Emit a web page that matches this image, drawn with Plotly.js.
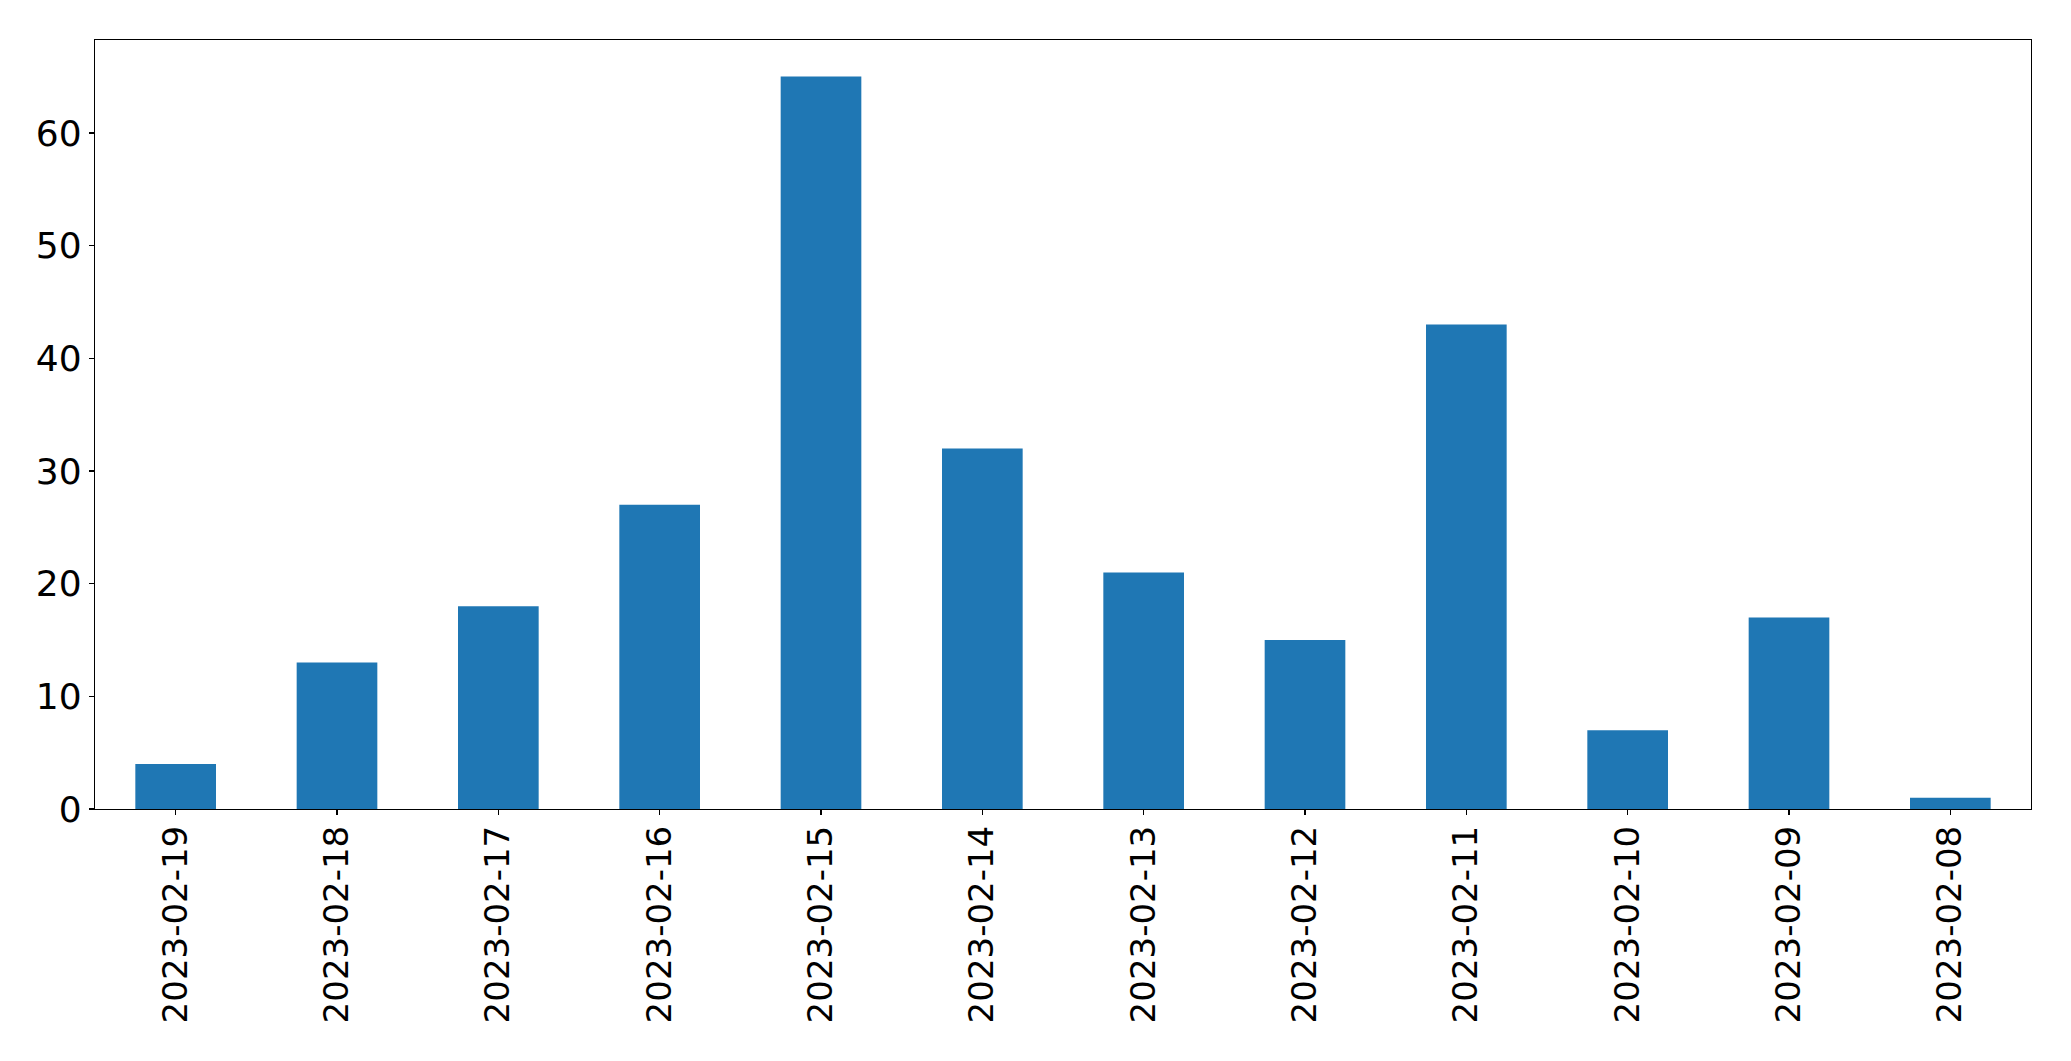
<!DOCTYPE html>
<html><head><meta charset="utf-8">
<script src="https://cdn.plot.ly/plotly-3.0.1.min.js"></script>
<style>html,body{margin:0;padding:0;background:#fff}#chart{width:2071px;height:1061px}</style>
</head><body><div id="chart"></div>
<script>
const dates = ["2023-02-19","2023-02-18","2023-02-17","2023-02-16","2023-02-15","2023-02-14","2023-02-13","2023-02-12","2023-02-11","2023-02-10","2023-02-09","2023-02-08"];
const counts = [4,13,18,27,65,32,21,15,43,7,17,1];
const yTicks = [0,10,20,30,40,50,60];

const trace = {type:'bar', x: dates, y: counts, width: 0.5, marker:{color:'#1f77b4', line:{width:0}}, hoverinfo:'x+y'};
const xfont = {family:'DejaVu Sans, sans-serif', size:34, color:'#000'};
const yfont = {family:'DejaVu Sans, sans-serif', size:36, color:'#000'};
const layout = {
  width:2071, height:1061,
  margin:{l:94.5, r:39.5, t:39.5, b:252, pad:0},
  paper_bgcolor:'#fff', plot_bgcolor:'#fff',
  showlegend:false,
  font: xfont,
  xaxis:{type:'category', range:[-0.5, 11.5], tickangle:-90, ticks:'outside', ticklen:5, tickwidth:1.2, tickcolor:'#000',
    ticklabelstandoff:-3,
    showline:true, linecolor:'#000', linewidth:1.2, mirror:true, showgrid:false, zeroline:false, tickfont:xfont, automargin:false},
  yaxis:{range:[0, 68.25], tickvals:yTicks, ticktext:yTicks.map(String), ticks:'outside', ticklen:5, tickwidth:1.2, tickcolor:'#000',
    showline:true, linecolor:'#000', linewidth:1.2, mirror:true, showgrid:false, zeroline:false, tickfont:yfont, automargin:false}
};
Plotly.newPlot('chart', [trace], layout, {displayModeBar:false, staticPlot:true});
</script></body></html>
